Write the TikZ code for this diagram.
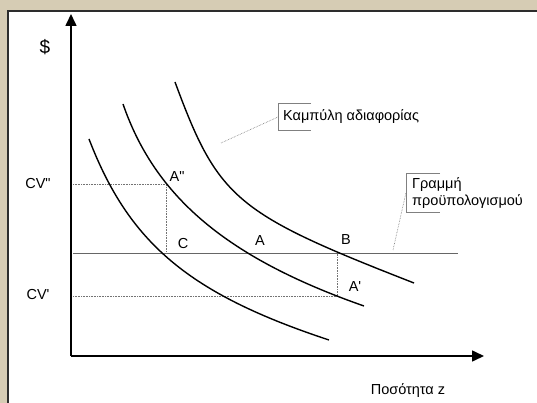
\documentclass[tikz,border=0pt]{standalone}
\usepackage{fontspec}
\setmainfont{Liberation Sans}
\usetikzlibrary{arrows.meta}
\definecolor{frameback}{RGB}{214,204,180}
\definecolor{frameline}{RGB}{45,45,45}
\begin{document}
\begin{tikzpicture}[x=1pt, y=-1pt,
	axis/.style={line width=1.6pt, -{Triangle[length=12pt, width=11pt]}},
	indiff/.style={line width=1.4pt},
	budget/.style={line width=0.6pt, black!60},
	guide/.style={line width=0.6pt, densely dotted, black!55},
	callout/.style={line width=0.7pt, black!50},
	lbl/.style={font=\fontsize{14.5}{17}\selectfont, inner sep=1pt}]
	\useasboundingbox (0,0) rectangle (537,403);
	% frame
	\fill[frameback] (0,0) rectangle (537,403);
	\fill[white] (8,11) rectangle (537,403);
	\draw[frameline, line width=1.5pt] (8,403) -- (8,11) -- (537,11);

	% axes
	\coordinate (O) at (71,356);
	\coordinate (ytop) at (71,14);
	\coordinate (xend) at (484,356);
	\draw[axis] (O) -- (ytop);
	\draw[axis] (O) -- (xend);
	\node[lbl, font=\fontsize{19}{21}\selectfont] (dollar) at (45,47) {\$};
	\node[lbl] (qty) at (408,391) {Ποσότητα z};

	% points on the curves
	\coordinate (C) at (164,252);
	\coordinate (A2) at (166,184);
	\coordinate (A) at (247,253);
	\coordinate (A1) at (337,296);
	\coordinate (B) at (337,253);

	% budget line and compensating variations
	\node[lbl] (cv2) at (38,184) {CV\textquotedbl};
	\node[lbl] (cv1) at (38,295) {CV\textquotesingle};
	\coordinate (cv2y) at (73,184);
	\coordinate (cv1y) at (73,296);
	\coordinate (bl) at (73,253);
	\coordinate (br) at (458,253);
	\draw[budget] (bl) -- (br);
	\draw[guide] (cv2y) -- (A2) -- (A2 |- bl);
	\draw[guide] (cv1y) -- (A1) -- (B);

	% indifference curves
	\coordinate (low1) at (89,139);   \coordinate (low2) at (329,340);
	\coordinate (mid1) at (123,104);  \coordinate (mid2) at (364,306);
	\coordinate (top1) at (175,82);   \coordinate (top2) at (414,283);
	\draw[indiff] (low1) .. controls (129.2,243.6) and (189.2,293.8) .. (low2);
	\draw[indiff] (mid1) .. controls (155.3,197.6) and (227.6,258.2) .. (mid2);
	\draw[indiff] (top1) .. controls (218.3,199.1) and (235.1,213.2) .. (top2);

	\node[lbl] (lA2) at (177,177) {A\textquotedbl};
	\node[lbl] (lC) at (183,244) {C};
	\node[lbl] (lA) at (260,241) {A};
	\node[lbl] (lB) at (346,240) {B};
	\node[lbl] (lA1) at (355,287) {A\textquotesingle};

	% callouts
	\node[lbl, anchor=west, minimum height=26pt, inner xsep=5pt] (kamp) at (278,117) {Καμπύλη αδιαφορίας};
	\draw[callout] ([xshift=33pt]kamp.north west) -- (kamp.north west) -- (kamp.south west) -- ([xshift=33pt]kamp.south west);
	\coordinate (kampend) at (221,143);
	\draw[guide] (kampend) -- (kamp.west);

	\node[lbl, anchor=north west, align=left, inner xsep=6pt, inner ysep=4pt] (gram) at (406,173) {Γραμμή\\προϋπολογισμού};
	\draw[callout] ([xshift=34pt]gram.north west) -- (gram.north west) -- (gram.south west) -- ([xshift=34pt]gram.south west);
	\coordinate (gramend) at (393,250);
	\draw[guide] (gramend) -- (gram.west);
\end{tikzpicture}
\end{document}
